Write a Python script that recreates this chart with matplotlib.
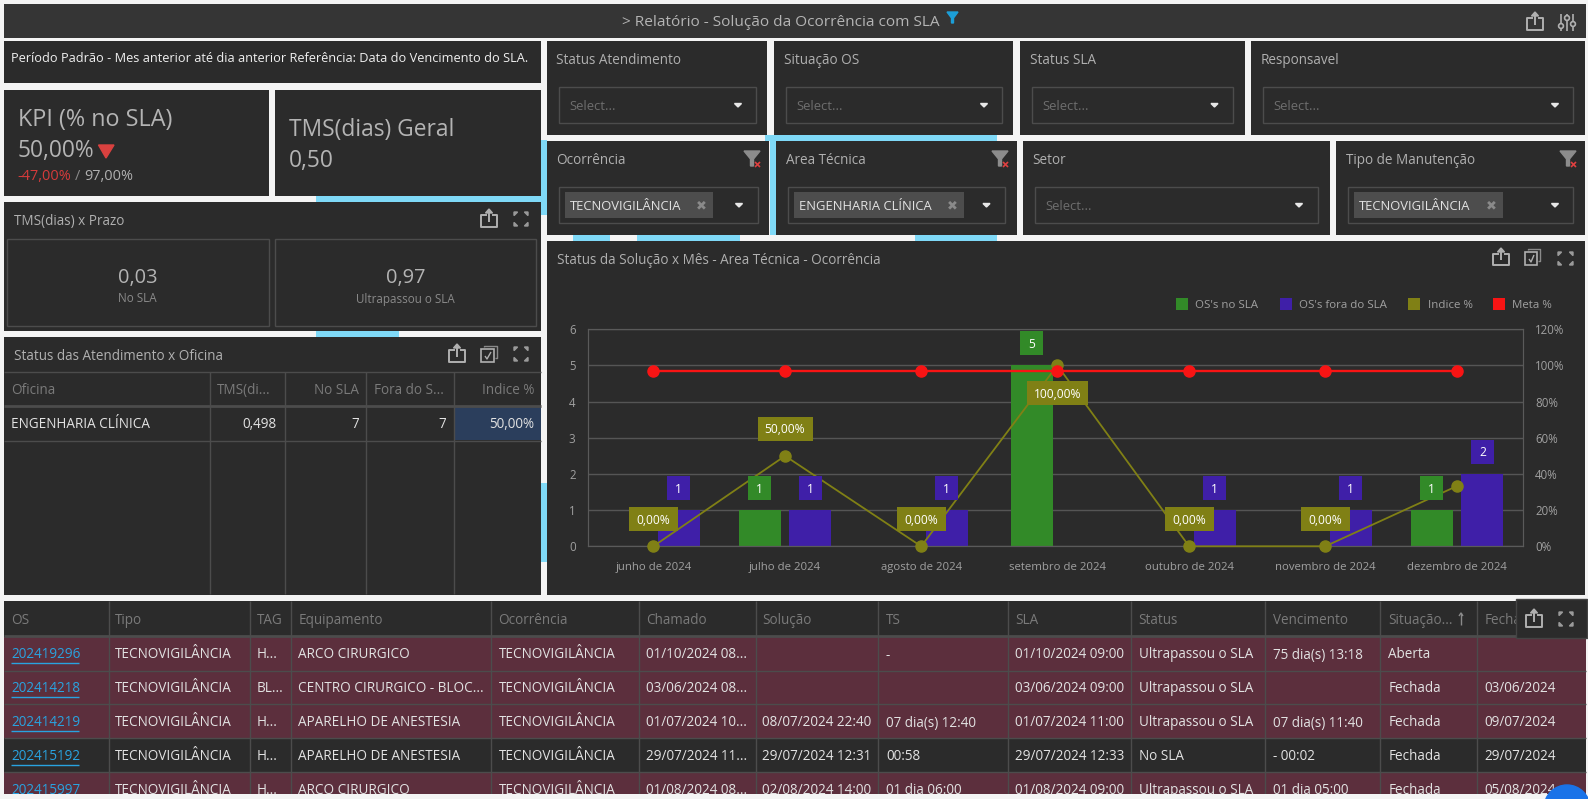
#!/usr/bin/env python3
# -*- coding: utf-8 -*-

import matplotlib
matplotlib.use("Agg")
import matplotlib.pyplot as plt
import pandas as pd
from matplotlib.patches import Rectangle, Polygon, Circle
from matplotlib.transforms import ScaledTranslation

plt.rcParams['font.family'] = ['Open Sans', 'DejaVu Sans']

# DATA ########################################################################

months = ["junho de 2024", "julho de 2024", "agosto de 2024", "setembro de 2024",
          "outubro de 2024", "novembro de 2024", "dezembro de 2024"]
month_starts = ["2024-06-01", "2024-07-01", "2024-08-01", "2024-09-01",
                "2024-10-01", "2024-11-01", "2024-12-01"]
os_no_sla = [0, 1, 0, 5, 0, 0, 1]
os_fora_sla = [1, 1, 1, 0, 1, 1, 2]
indice = [0, 50, 0, 100, 0, 0, 33.33]
indice_labels = ["0,00%", "50,00%", "0,00%", "100,00%", "0,00%", "0,00%", None]
meta = [97, 97, 97, 97, 97, 97, 97]
left_ticks = [0, 1, 2, 3, 4, 5, 6]
right_ticks = [0, 20, 40, 60, 80, 100, 120]

oficina_header = ["Oficina", "TMS(di...", "No SLA", "Fora do S...", "Indice %"]
oficina_row = ["ENGENHARIA CLÍNICA", "0,498", "7", "7", "50,00%"]

table_header = ["OS", "Tipo", "TAG", "Equipamento", "Ocorrência", "Chamado", "Solução",
                "TS", "SLA", "Status", "Vencimento", "Situação...", "Fecha"]
table_rows = [
    ["202419296", "TECNOVIGILÂNCIA", "H...", "ARCO CIRURGICO", "TECNOVIGILÂNCIA", "01/10/2024 08...", "",
     "-", "01/10/2024 09:00", "Ultrapassou o SLA", "75 dia(s) 13:18", "Aberta", ""],
    ["202414218", "TECNOVIGILÂNCIA", "BL...", "CENTRO CIRURGICO - BLOC...", "TECNOVIGILÂNCIA", "03/06/2024 08...", "",
     "", "03/06/2024 09:00", "Ultrapassou o SLA", "", "Fechada", "03/06/2024"],
    ["202414219", "TECNOVIGILÂNCIA", "H...", "APARELHO DE ANESTESIA", "TECNOVIGILÂNCIA", "01/07/2024 10...", "08/07/2024 22:40",
     "07 dia(s) 12:40", "01/07/2024 11:00", "Ultrapassou o SLA", "07 dia(s) 11:40", "Fechada", "09/07/2024"],
    ["202415192", "TECNOVIGILÂNCIA", "H...", "APARELHO DE ANESTESIA", "TECNOVIGILÂNCIA", "29/07/2024 11...", "29/07/2024 12:31",
     "00:58", "29/07/2024 12:33", "No SLA", "- 00:02", "Fechada", "29/07/2024"],
    ["202415997", "TECNOVIGILÂNCIA", "H...", "ARCO CIRURGICO", "TECNOVIGILÂNCIA", "01/08/2024 08...", "02/08/2024 14:00",
     "01 dia 06:00", "01/08/2024 09:00", "Ultrapassou o SLA", "01 dia 05:00", "Fechada", "05/08/2024"],
]
row_breached = [True, True, True, False, True]

# COLOURS #####################################################################

PAGE = "#f4f4f4"
PANEL = "#2b2b2b"
BAR = "#353535"
SWOOSH = "#7fd9f7"
EDGE = "#4c4c4c"
GREEN = "#328a28"
PURPLE = "#3f1fa8"
OLIVE = "#808015"
RED = "#f81414"
DIM = "#8a8a8a"
SOFT = "#b0b0b0"
LIGHT = "#e2e2e2"

# PAGE ########################################################################

fig = plt.figure(figsize=(15.88, 7.99), dpi=100, facecolor=PAGE)
bg = fig.add_axes([0, 0, 1, 1])
bg.set_xlim(0, 1588)
bg.set_ylim(799, 0)
bg.axis("off")


def box(x0, y0, x1, y1, color=PANEL, edge="none", z=1, lw=1):
    bg.add_patch(Rectangle((x0, y0), x1 - x0, y1 - y0, facecolor=color, edgecolor=edge, lw=lw, zorder=z))


def txt(x, y, s, px=13.5, color=SOFT, ha="left", z=3, **kw):
    return bg.text(x, y + 1.5, s, fontsize=px * 0.72, color=color, ha=ha, va="center", zorder=z, **kw)


def line(xs, ys, color=SOFT, lw=1.2, z=3):
    bg.plot(xs, ys, color=color, lw=lw, zorder=z, solid_capstyle="butt")


def share_icon(x0, y0, x1, y1, z=3):
    mid = (x0 + x1) / 2
    top = y0 + (y1 - y0) * 0.35
    line([mid - 2.5, x0, x0, x1, x1, mid + 2.5], [top, top, y1, y1, top, top], z=z, lw=1.4)
    line([mid, mid], [y0 + 1, y1 - 5], z=z, lw=1.4)
    bg.add_patch(Polygon([[mid - 3.5, y0 + 4], [mid, y0], [mid + 3.5, y0 + 4]], color=SOFT, zorder=z))


def expand_icon(x0, y0, x1, y1, z=3):
    s = 3.6
    for cx, cy, dx, dy in [(x0, y0, 1, 1), (x1, y0, -1, 1), (x0, y1, 1, -1), (x1, y1, -1, -1)]:
        bg.add_patch(Polygon([[cx, cy], [cx + dx * s, cy], [cx, cy + dy * s]], color="#9a9a9a", zorder=z))


def check_icon(x0, y0, x1, y1):
    line([x0 + 3, x0 + 3, x1, x1, x1 - 2], [y0 + 1, y0, y0, y1 - 4, y1 - 4], color="#8a8a8a", lw=1)
    bg.add_patch(Rectangle((x0, y0 + 3), x1 - x0 - 3, y1 - y0 - 3, fc=PANEL, ec=SOFT, lw=1.2, zorder=3))
    line([x0 + 4, x0 + 6, x1 - 6], [y0 + 10, y1 - 3, y0 + 6], lw=1)


def funnel_x(cx, y0):
    bg.add_patch(Polygon([[cx - 8, y0], [cx + 8, y0], [cx + 1.5, y0 + 8], [cx + 1.5, y0 + 15], [cx - 1.5, y0 + 15], [cx - 1.5, y0 + 8]],
                         color="#8c8c8c", zorder=3))
    line([cx + 3, cx + 8], [y0 + 11, y0 + 16], color="#e04040", lw=1.2)
    line([cx + 8, cx + 3], [y0 + 11, y0 + 16], color="#e04040", lw=1.2)


def caret(cx, cy, color="#e8e8e8"):
    bg.add_patch(Polygon([[cx - 3.5, cy - 1.5], [cx + 3.5, cy - 1.5], [cx, cy + 2]], color=color, zorder=3))


# Blue background art showing through the gaps between the panels
for x0, y0, x1, y1 in [(316, 196, 541, 202), (316, 331, 399, 337), (541, 483, 547, 562),
                       (541, 140, 547, 215), (541, 196, 547, 202), (770, 141, 776, 235),
                       (765, 135, 997, 141), (573, 235, 610, 241), (637, 235, 740, 241),
                       (915, 235, 997, 241)]:
    box(x0, y0, x1, y1, SWOOSH, z=0.5)

# TOP BAR #####################################################################

box(4, 4, 1586, 38, BAR)
txt(781, 21, "> Relatório - Solução da Ocorrência com SLA", 15.4, "#b4b4b4", ha="center")
bg.add_patch(Polygon([[947, 12], [958, 12], [953.5, 18], [953.5, 23], [951.5, 23], [951.5, 18]], color="#1c9fd8", zorder=3))
share_icon(1527, 12, 1543, 30)
for sx, sy in [(1561, 26), (1567, 18), (1573, 24)]:
    line([sx, sx], [14, 31])
    bg.add_patch(Circle((sx, sy), 2.4, fc=BAR, ec=SOFT, lw=1.2, zorder=4))

# LEFT COLUMN #################################################################

box(4, 41, 541, 83)
txt(11, 57, "Período Padrão - Mes anterior até dia anterior Referência: Data do Vencimento do SLA.", 12.75, "#f0f0f0")

box(4, 90, 269, 196)
txt(17.5, 118, "KPI (% no SLA)", 23.4, "#b4b4b4")
txt(17.5, 149, "50,00%", 22.8, "#b4b4b4")
bg.add_patch(Polygon([[98.5, 145], [114, 145], [106, 158]], color="#d9413f", zorder=3))
txt(17.5, 175, "-47,00%", 14.5, "#d63b3b")
txt(75, 175, "/", 14.5, DIM)
txt(84, 175, "97,00%", 14.5, SOFT)

box(275, 90, 541, 196)
txt(289, 128, "TMS(dias) Geral", 22.7, "#b4b4b4")
txt(289, 159, "0,50", 22.7, "#b4b4b4")

box(4, 202, 541, 331)
txt(14, 220, "TMS(dias) x Prazo", 13.5)
share_icon(481, 209, 497, 227)
expand_icon(514, 212, 528, 226)
box(7, 239, 268.5, 326, PANEL, EDGE, z=2)
box(275, 239, 536, 326, PANEL, EDGE, z=2)
txt(137.7, 277, "0,03", 20, "#b4b4b4", ha="center")
txt(137.7, 297.5, "No SLA", 11.6, DIM, ha="center")
txt(405.6, 277, "0,97", 20, "#b4b4b4", ha="center")
txt(405.6, 297.5, "Ultrapassou o SLA", 11.6, DIM, ha="center")

# Oficina table
box(4, 337, 541, 595)
txt(14, 355.5, "Status das Atendimento x Oficina", 13.5)
share_icon(449, 344, 465, 362)
check_icon(481, 346, 497, 362)
expand_icon(514, 347, 528, 361)
box(454, 407, 541, 440, "#2b3e5c", z=1.5)
line([4, 541], [371.5, 371.5], EDGE, 1)
line([4, 541], [406, 406], EDGE, 2)
line([4, 541], [440.5, 440.5], EDGE, 1)
for x in [209.5, 284.5, 366.2, 454.2]:
    line([x, x], [371.5, 594], EDGE, 1)
for s, x, ha in zip(oficina_header, [11, 217, 358.5, 374, 534], ["left", "left", "right", "left", "right"]):
    txt(x, 389, s, 13.5, "#7a7a7a", ha=ha)
for s, x, ha in zip(oficina_row, [11, 276.4, 358.5, 446, 534], ["left", "right", "right", "right", "right"]):
    txt(x, 423.5, s, 13.5, LIGHT, ha=ha)

# FILTERS #####################################################################

filter_panels = [
    (547, 41, 767, 135, "Status Atendimento", 556.5, 559, 756, None, 738),
    (774, 41, 1013, 135, "Situação OS", 784, 786, 1002, None, 984),
    (1020, 41, 1245, 135, "Status SLA", 1030.5, 1032, 1233, None, 1214.5),
    (1251, 41, 1585, 135, "Responsavel", 1260.5, 1263, 1573, None, 1555),
    (547, 141, 769, 235, "Ocorrência", 556.5, 559, 758, ("TECNOVIGILÂNCIA", 148, 701), 739),
    (776, 141, 1017, 235, "Area Técnica", 786, 788, 1004.5, ("ENGENHARIA CLÍNICA", 170, 952), 986.5),
    (1023, 141, 1329.5, 235, "Setor", 1032.5, 1035, 1318, None, 1299),
    (1336, 141, 1585, 235, "Tipo de Manutenção", 1346, 1348, 1573, ("TECNOVIGILÂNCIA", 149, 1491), 1555),
]
for x0, y0, x1, y1, title, tx, sx0, sx1, tag, cx in filter_panels:
    box(x0, y0, x1, y1)
    txt(tx, y0 + 18, title, 13.5)
    box(sx0, y0 + 46, sx1, y0 + 82, PANEL, EDGE, z=2)
    caret(cx, y0 + 64)
    if tag:
        label, w, xx = tag
        box(sx0 + 5.5, y0 + 51, sx0 + 5.5 + w, y0 + 77, "#4d4d4d", z=2.5)
        txt(sx0 + 11, y0 + 63.5, label, 13, LIGHT)
        txt(xx, y0 + 63, "✖", 13, "#8a8a8a", ha="center")
        funnel_x(x1 - 17, y0 + 10)
    else:
        txt(sx0 + 10, y0 + 64, "Select...", 13, "#6e6e6e")

# CHART #######################################################################

box(547, 241, 1585, 595)
txt(557, 259, "Status da Solução x Mês - Area Técnica - Ocorrência", 13.5)
share_icon(1493, 248, 1509, 265)
check_icon(1525, 249, 1540, 265)
expand_icon(1558, 252, 1573, 265)

for sx, tx, color, s in [(1176, 1195, GREEN, "OS's no SLA"), (1280, 1299, PURPLE, "OS's fora do SLA"),
                         (1408, 1428, OLIVE, "Indice %"), (1493, 1512.5, RED, "Meta %")]:
    box(sx, 297.5, sx + 12, 309.5, color, z=2)
    txt(tx, 303.5, s, 11.5, "#a0a0a0")

# The month axis is a time axis: months sit apart by their number of days
starts = pd.to_datetime(month_starts)
x_pos = [(d - starts[0]).days for d in starts]
px_per_day = (1457 - 653.3) / x_pos[-1]

ax = fig.add_axes([588 / 1588, 1 - 546.3 / 799, (1522.6 - 588) / 1588, (546.3 - 329.3) / 799])
ax.patch.set_visible(False)
ax2 = ax.twinx()
ax2.patch.set_visible(False)

bar_w = 42 / px_per_day
bar_off = 25.4 / px_per_day
ax.bar([x - bar_off for x in x_pos], os_no_sla, bar_w, color=GREEN, zorder=2)
ax.bar([x + bar_off for x in x_pos], os_fora_sla, bar_w, color=PURPLE, zorder=2)
ax.set_xlim((588 - 653.3) / px_per_day, (1522.6 - 653.3) / px_per_day)
ax.set_ylim(0, 6)
ax.set_yticks(left_ticks)
ax.set_xticks(x_pos)
ax.set_xticklabels(months)
ax.grid(axis="y", color="#555555", lw=1, zorder=1)
ax.set_axisbelow(True)
ax.tick_params(axis="y", length=0, pad=9, labelsize=8.3, labelcolor="#a0a0a0")
ax.tick_params(axis="x", length=0, pad=11, labelsize=8.2, labelcolor="#a0a0a0")

ax2.plot(x_pos, indice, color=OLIVE, lw=1.3, marker="o", ms=8, clip_on=False, zorder=3)
ax2.plot(x_pos, meta, color=RED, lw=1.7, marker="o", ms=8, clip_on=False, zorder=4)
ax2.set_ylim(0, 120)
ax2.set_yticks(right_ticks)
ax2.set_yticklabels([f"{v}%" for v in right_ticks])
ax2.tick_params(axis="y", length=0, pad=9, labelsize=8.3, labelcolor="#a0a0a0")
for a in (ax, ax2):
    for sp in a.spines.values():
        sp.set_color("#5a5a5a")


def value_tag(axis, x, y, s, w, color, dy, fg="white", px=12):
    # box size and gap are screen pixels, the anchor comes from the data scale
    anchor = ScaledTranslation(x, y, axis.transData)
    axis.add_patch(Rectangle((-w / 2, dy), w, 24, transform=anchor, facecolor=color, edgecolor="none",
                             clip_on=False, zorder=6))
    axis.annotate(s, (x, y), xytext=(0, dy + 11), textcoords="offset pixels", ha="center", va="center",
                  color=fg, fontsize=px * 0.72, zorder=7, annotation_clip=False)


for x, v in zip(x_pos, os_no_sla):
    if v:
        value_tag(ax2, x - bar_off, v * 20, str(v), 23, GREEN, 10)
for x, v in zip(x_pos, os_fora_sla):
    if v:
        value_tag(ax2, x + bar_off, v * 20, str(v), 23, PURPLE, 10)
for x, v, s in zip(x_pos, indice, indice_labels):
    if s is None:
        continue
    w = 61 if v == 100 else (55 if v == 50 else 49)
    dy = -40 if v == 100 else 15
    value_tag(ax2, x, v, s, w, OLIVE, dy)

# BOTTOM TABLE ################################################################

col_edges = [4, 108.7, 249.5, 291, 491, 639, 755.6, 878, 1007.5, 1130.7, 1265, 1380.4, 1477.4, 1586]
text_x = [11, 115.3, 257, 298.5, 498.5, 646.4, 762, 886, 1015, 1138.7, 1273.4, 1388.4, 1484.4]
row_tops = [636.7, 670.3, 704.3, 738.3, 772.3]
row_text_y = [653.5, 687.5, 721.5, 755.5, 789.5]

box(4, 601, 1586, 794)
for top, breached in zip(row_tops, row_breached):
    if breached:
        box(4, top, 1586, top + 34, "#5c2f3d", z=1.2)
    line([4, 1586], [top + 34, top + 34], EDGE, 1, z=1.5)
line([4, 1586], [635.5, 635.5], EDGE, 2, z=1.5)
for x in col_edges[1:-1]:
    line([x, x], [601, 794], EDGE, 1, z=1.5)
for s, x in zip(table_header, text_x):
    txt(x, 619, s, 13.5, "#7a7a7a")
line([1461, 1461], [613, 625], "#8a8a8a", 1)
line([1459, 1461, 1463], [616, 613, 616], "#8a8a8a", 1)
for row, y in zip(table_rows, row_text_y):
    for j, (s, x) in enumerate(zip(row, text_x)):
        if j == 0:
            txt(x, y, s, 13.5, "#29a3e0")
            line([x, 79], [y + 9, y + 9], "#29a3e0", 1)
        else:
            txt(x, y, s, 13.5, LIGHT)

# Hovering toolbar and page strip below the table
box(1515.5, 599, 1587, 637.5, PANEL, "#444444", z=4)
share_icon(1526, 609, 1542, 627, z=5)
expand_icon(1559, 612, 1573, 626, z=5)
box(0, 794, 1588, 799, PAGE, z=5)
bg.add_patch(Circle((1567, 808), 23, color="#1a73e8", zorder=6, clip_on=True))

# SAVE ########################################################################

fig.savefig("out.png", dpi=100, facecolor=PAGE)
